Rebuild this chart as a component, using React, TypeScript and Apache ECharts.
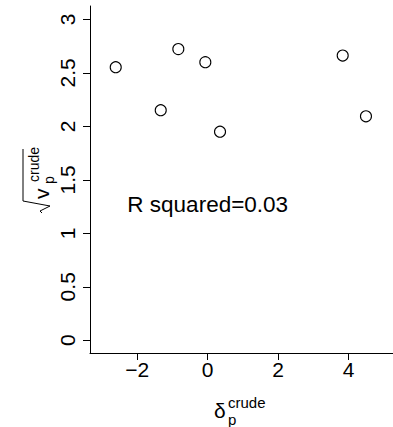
import { useEffect, useRef } from "react";
import * as echarts from "echarts";

const deltaCrude = [-2.61, -1.333, -0.834, -0.068, 0.349, 3.83, 4.49];
const sqrtVCrude = [2.553, 2.151, 2.722, 2.6, 1.95, 2.662, 2.094];
const xTicks = [-2, 0, 2, 4];
const xTickLabels = ["\u22122", "0", "2", "4"];
const yTicks = [0, 0.5, 1, 1.5, 2, 2.5, 3];
const yTickLabels = ["0", "0.5", "1", "1.5", "2", "2.5", "3"];
const annotationX = [0];
const annotationY = [1.27];
const annotationText = "R squared=0.03";

const FONT = "'Liberation Sans', Arial, Helvetica, sans-serif";

function txt(text: string, x: number, y: number, size: number) {
  return {
    type: "text",
    x,
    y,
    style: {
      text,
      fontSize: size,
      fontFamily: FONT,
      fill: "#000",
      align: "left",
      verticalAlign: "middle",
      textAlign: "left",
      textVerticalAlign: "middle",
    },
  };
}

export default function App() {
  const ref = useRef<HTMLDivElement>(null);
  useEffect(() => {
    const chart = echarts.init(ref.current!, null, { renderer: "svg" });
    const pts = deltaCrude.map((x, i) => [x, sqrtVCrude[i]]);
    chart.setOption({
      animation: false,
      grid: { left: 90, right: 0, top: 6, bottom: 74, containLabel: false },
      xAxis: {
        type: "value",
        min: -3.34,
        max: 5.257,
        splitLine: { show: false },
        axisLine: { show: true, onZero: false, lineStyle: { color: "#000", width: 1 } },
        axisTick: { show: true, length: 7, lineStyle: { color: "#000" }, customValues: xTicks },
        axisLabel: {
          customValues: xTicks,
          margin: 6,
          fontSize: 21,
          fontFamily: FONT,
          color: "#000",
          formatter: (v: number) => xTickLabels[xTicks.indexOf(v)] ?? "",
        },
      },
      yAxis: {
        type: "value",
        min: -0.119,
        max: 3.125,
        splitLine: { show: false },
        axisLine: { show: true, onZero: false, lineStyle: { color: "#000", width: 1 } },
        axisTick: { show: true, length: 7, lineStyle: { color: "#000" }, customValues: yTicks },
        axisLabel: {
          customValues: yTicks,
          rotate: 90,
          margin: 12,
          fontSize: 21,
          fontFamily: FONT,
          color: "#000",
          formatter: (v: number) => yTickLabels[yTicks.indexOf(v)] ?? "",
        },
      },
      series: [
        {
          type: "scatter",
          data: pts,
          symbol: "circle",
          symbolSize: 11,
          itemStyle: { color: "rgba(0,0,0,0)", borderColor: "#000", borderWidth: 1.1, opacity: 1 },
          emphasis: { disabled: true },
          silent: true,
        },
        {
          type: "scatter",
          data: annotationX.map((x, i) => [x, annotationY[i]]),
          symbolSize: 0,
          silent: true,
          itemStyle: { color: "#000", opacity: 1 },
          emphasis: { disabled: true },
          label: {
            show: true,
            position: "inside",
            formatter: annotationText,
            fontSize: 22.5,
            fontFamily: FONT,
            color: "#000",
            opacity: 1,
            textBorderWidth: 0,
            textBorderColor: "transparent",
          },
        },
      ],
      graphic: [
        txt("\u03b4", 214, 410.5, 21),
        txt("crude", 228, 402, 15),
        txt("p", 228, 419, 15),
        {
          type: "group",
          x: 0,
          y: 180,
          rotation: Math.PI / 2,
          children: [
            {
              type: "polyline",
              shape: { points: [[-33, 42], [-31, 40], [-26, 50], [-21, 23], [31, 23]] },
              style: { stroke: "#000", lineWidth: 1, fill: null },
            },
            txt("v", -19, 41, 21),
            txt("p", -4, 49, 14),
            txt("crude", -2, 34, 14),
          ],
        },
      ],
    });
    return () => chart.dispose();
  }, []);
  return (
    <div
      ref={ref}
      style={{ width: 393, height: 427, position: "fixed", left: 0, top: 0, background: "#fff" }}
    />
  );
}
